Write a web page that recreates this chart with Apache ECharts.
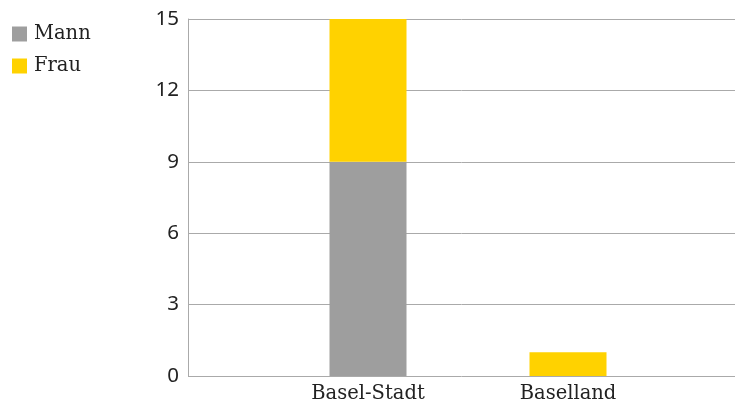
<!DOCTYPE html>
<html>
<head>
<meta charset="utf-8">
<script src="https://cdn.jsdelivr.net/npm/echarts@6/dist/echarts.min.js"></script>
<style>
  html, body { margin: 0; padding: 0; background: #fff; }
  #chart { width: 735px; height: 407px; }
</style>
</head>
<body>
<div id="chart"></div>
<script>
// Regions and counts per gender
const categories = ['Basel-Stadt', 'Baselland'];
const mann = [9, 0];
const frau = [6, 1];
const yTicks = { min: 0, max: 15, interval: 3 };

const FONT = '"DejaVu Serif", serif';
const NUM_FONT = '"Noto Sans", sans-serif';
const TEXT = '#222222';

const chart = echarts.init(document.getElementById('chart'), null, { renderer: 'canvas' });

chart.setOption({
  animation: false,
  textStyle: { fontFamily: FONT, color: TEXT },
  legend: {
    orient: 'vertical',
    left: 12,
    top: 24,
    padding: 0,
    itemWidth: 15,
    itemHeight: 15,
    itemGap: 12,
    icon: 'rect',
    textStyle: { fontFamily: FONT, fontSize: 19.5, lineHeight: 19, color: TEXT, padding: [0, 0, 0, 2] },
    data: ['Mann', 'Frau']
  },
  grid: [
    // frame: y axis, grid lines
    { left: 188, right: 0, top: 19, bottom: 31 },
    // bars
    { left: 268, right: 67, top: 19, bottom: 31 }
  ],
  xAxis: [
    { gridIndex: 0, type: 'value', min: 0, max: 1, show: false },
    {
      gridIndex: 1,
      type: 'category',
      data: categories,
      axisLine: { show: false },
      axisTick: { show: false },
      axisLabel: { fontFamily: FONT, fontSize: 19.5, color: TEXT, margin: 8 }
    }
  ],
  yAxis: [
    {
      gridIndex: 0,
      type: 'value',
      min: yTicks.min,
      max: yTicks.max,
      interval: yTicks.interval,
      axisLine: { show: true, lineStyle: { color: '#aaaaaa', width: 1 } },
      axisTick: { show: false },
      splitLine: { lineStyle: { color: '#aaaaaa', width: 1 } },
      axisLabel: { fontFamily: NUM_FONT, fontSize: 20.5, color: TEXT, margin: 9, padding: [6, 0, 0, 0] }
    },
    { gridIndex: 1, type: 'value', min: yTicks.min, max: yTicks.max, show: false }
  ],
  series: [
    {
      name: 'Mann',
      type: 'bar',
      stack: 'total',
      xAxisIndex: 1,
      yAxisIndex: 1,
      barWidth: 77,
      itemStyle: { color: '#9e9e9e' },
      data: mann
    },
    {
      name: 'Frau',
      type: 'bar',
      stack: 'total',
      xAxisIndex: 1,
      yAxisIndex: 1,
      barWidth: 77,
      itemStyle: { color: '#ffd200' },
      data: frau
    }
  ]
});
</script>
</body>
</html>
